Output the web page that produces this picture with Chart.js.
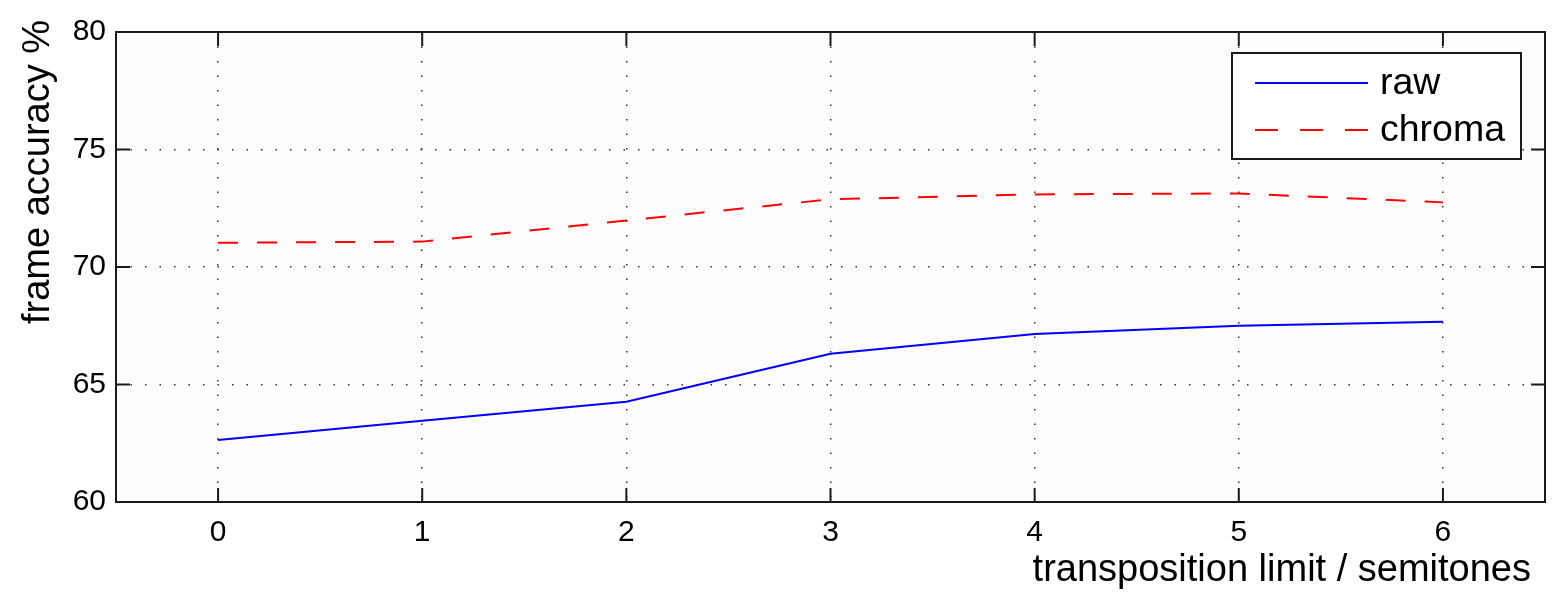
<!DOCTYPE html>
<html>
<head>
<meta charset="utf-8">
<script src="https://cdn.jsdelivr.net/npm/chart.js@4.4.1/dist/chart.umd.min.js"></script>
<style>
  html, body { margin: 0; padding: 0; background: #fff; }
</style>
</head>
<body>
<canvas id="grafico" width="1555" height="615"></canvas>
<script>
// valores
const limites = [0, 1, 2, 3, 4, 5, 6];
const rawAcc = [62.64, 63.46, 64.27, 66.31, 67.15, 67.50, 67.67];
const chromaAcc = [71.03, 71.08, 71.98, 72.88, 73.09, 73.13, 72.75];
const yTicks = [60, 65, 70, 75, 80];
const seriesLabels = ["raw", "chroma"];
const xTitle = "transposition limit / semitones";
const yTitle = "frame accuracy %";

const fonte = '"Liberation Sans", Arial, Helvetica, sans-serif';

// moldura estilo matlab: fundo, caixa, ticks internos, títulos e legenda
const molduraPlugin = {
  id: "moldura",
  beforeDraw(chart) {
    const ctx = chart.ctx;
    const a = chart.chartArea;
    ctx.save();
    ctx.fillStyle = "#fff";
    ctx.fillRect(0, 0, chart.width, chart.height);
    ctx.fillStyle = "#fcfcfc";
    ctx.fillRect(a.left, a.top, a.right - a.left, a.bottom - a.top);
    ctx.restore();
  },
  afterDraw(chart) {
    const ctx = chart.ctx;
    const a = chart.chartArea;
    const xs = chart.scales.x;
    const ys = chart.scales.y;
    const tam = 14;

    ctx.save();
    ctx.strokeStyle = "#1a1a1a";
    ctx.lineWidth = 2;
    ctx.beginPath();
    limites.forEach(v => {
      const px = xs.getPixelForValue(v);
      ctx.moveTo(px, a.bottom); ctx.lineTo(px, a.bottom - tam);
      ctx.moveTo(px, a.top); ctx.lineTo(px, a.top + tam);
    });
    yTicks.forEach(v => {
      const py = ys.getPixelForValue(v);
      ctx.moveTo(a.left, py); ctx.lineTo(a.left + tam, py);
      ctx.moveTo(a.right, py); ctx.lineTo(a.right - tam, py);
    });
    ctx.stroke();
    ctx.strokeRect(a.left, a.top, a.right - a.left, a.bottom - a.top);

    // títulos dos eixos
    ctx.fillStyle = "#000";
    ctx.font = "38px " + fonte;
    ctx.textAlign = "right";
    ctx.textBaseline = "alphabetic";
    ctx.fillText(xTitle, a.right - 14, 581);

    ctx.save();
    ctx.translate(39, 172);
    ctx.rotate(-Math.PI / 2);
    ctx.textAlign = "center";
    ctx.textBaseline = "middle";
    ctx.fillText(yTitle, 0, 0);
    ctx.restore();

    // legenda
    const lx = a.right - 24 - 289;
    const ly = a.top + 21;
    ctx.fillStyle = "#fff";
    ctx.fillRect(lx, ly, 289, 106);
    ctx.strokeStyle = "#1a1a1a";
    ctx.lineWidth = 2;
    ctx.strokeRect(lx, ly, 289, 106);
    chart.data.datasets.forEach((ds, i) => {
      const yy = ly + 30 + i * 47;
      ctx.save();
      ctx.strokeStyle = ds.borderColor;
      ctx.lineWidth = 2;
      ctx.setLineDash(ds.borderDash ? [23, 22] : []);
      ctx.beginPath();
      ctx.moveTo(lx + 23, yy);
      ctx.lineTo(lx + 136, yy);
      ctx.stroke();
      ctx.restore();
      ctx.fillStyle = "#000";
      ctx.font = "37.5px " + fonte;
      ctx.textAlign = "left";
      ctx.textBaseline = "middle";
      ctx.fillText(ds.label, lx + 148, yy + 1);
    });
    ctx.restore();
  }
};

const grafico = new Chart(document.getElementById("grafico").getContext("2d"), {
  type: "line",
  data: {
    datasets: [
      {
        label: seriesLabels[0],
        data: limites.map((x, i) => ({ x: x, y: rawAcc[i] })),
        borderColor: "#0000ff",
        borderWidth: 2,
        pointRadius: 0,
        fill: false,
        tension: 0
      },
      {
        label: seriesLabels[1],
        data: limites.map((x, i) => ({ x: x, y: chromaAcc[i] })),
        borderColor: "#ff0000",
        borderWidth: 2,
        borderDash: [20, 19],
        pointRadius: 0,
        fill: false,
        tension: 0
      }
    ]
  },
  options: {
    responsive: false,
    animation: false,
    layout: { padding: { top: 32, right: 10, left: 0, bottom: 0 } },
    plugins: {
      legend: { display: false },
      tooltip: { enabled: false }
    },
    scales: {
      x: {
        type: "linear",
        min: -0.5,
        max: 6.5,
        afterBuildTicks: s => { s.ticks = limites.map(v => ({ value: v })); },
        afterFit: s => { s.height = 113; },
        ticks: {
          color: "#000",
          font: { family: fonte, size: 30 },
          padding: 13,
          maxRotation: 0,
          autoSkip: false
        },
        grid: { color: "#333", lineWidth: 1.5, drawTicks: false },
        border: { display: false, dash: [1.5, 13] }
      },
      y: {
        min: 60,
        max: 80,
        afterBuildTicks: s => { s.ticks = yTicks.map(v => ({ value: v })); },
        afterFit: s => { s.width = 116; },
        ticks: {
          color: "#000",
          font: { family: fonte, size: 30 },
          padding: 10
        },
        grid: { color: "#333", lineWidth: 1.5, drawTicks: false },
        border: { display: false, dash: [1.5, 13] }
      }
    }
  },
  plugins: [molduraPlugin]
});
</script>
</body>
</html>
